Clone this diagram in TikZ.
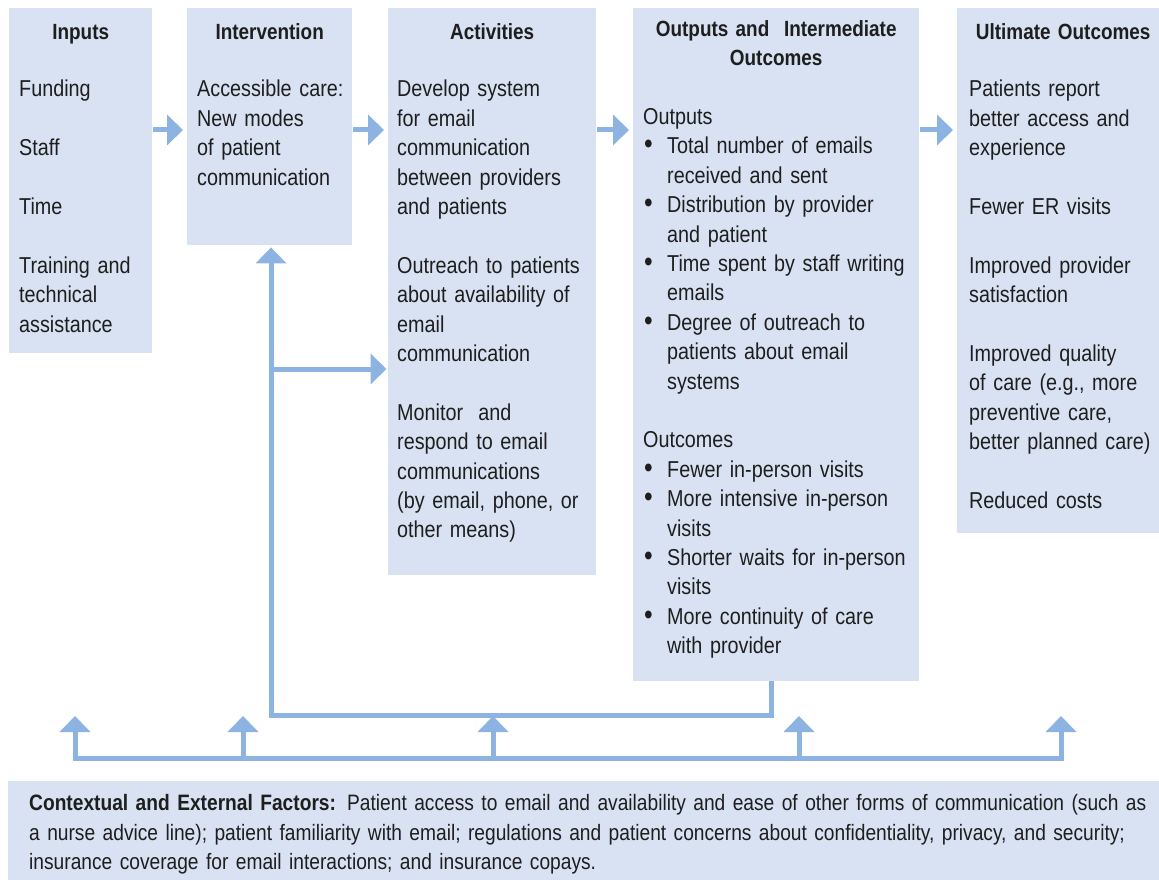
\documentclass[tikz,border=0pt]{standalone}
\usepackage{fontspec}
\setmainfont{Liberation Sans}[FakeStretch=0.86]
\usetikzlibrary{arrows.meta}

\definecolor{boxfill}{RGB}{217,226,243}
\definecolor{flowblue}{RGB}{141,179,226}
\definecolor{ink}{RGB}{30,30,30}

\newcommand{\gapline}{\\[29.4pt]}
\newcommand{\itembul}{\makebox[24pt][l]{\hspace{1pt}\scalebox{1.25}{\textbullet}}}
\newcommand{\contline}{\hspace*{24pt}}

\tikzset{
    panel/.style={fill=boxfill, inner sep=0pt, anchor=north west},
    head/.style={font=\fontsize{22}{29.4}\selectfont\bfseries, text width=#1, align=center, inner sep=0pt, anchor=base},
    head/.default=140pt,
    body/.style={text width=#1, align=left, inner sep=0pt, anchor=base west},
    body/.default=300pt,
    feed/.style={draw=flowblue, line width=5pt},
    flow/.style={feed, -{Triangle[length=16pt,width=30pt]}},
}

\begin{document}
\begin{tikzpicture}[x=1pt, y=-1pt, font=\fontsize{23}{29.4}\selectfont, text=ink]
    \useasboundingbox (0,0) rectangle (1159,880);

    \node[panel, minimum width=143pt, minimum height=345pt] (inputs) at (9,8) {};
    \node[panel, minimum width=165pt, minimum height=237pt] (interv) at (187,8) {};
    \node[panel, minimum width=208pt, minimum height=567pt] (activ) at (388,8) {};
    \node[panel, minimum width=286pt, minimum height=673pt] (outputs) at (633,8) {};
    \node[panel, minimum width=202pt, minimum height=525pt] (ultimate) at (957,8) {};
    \node[panel, minimum width=1151pt, minimum height=100pt] (context) at (8,781) {};

    \node[head] (inputs-t) at ([yshift=-31.5pt]inputs.north) {Inputs};
    \node[head=160pt] (interv-t) at ([yshift=-31.5pt]interv.north) {Intervention};
    \node[head=200pt] (activ-t) at ([yshift=-31.5pt]activ.north) {Activities};
    \node[head=280pt] (outputs-t) at ([yshift=-28.5pt]outputs.north) {Outputs and\ \ Intermediate\\Outcomes};
    \node[head=200pt] (ultimate-t) at ([xshift=5pt,yshift=-31.5pt]ultimate.north) {Ultimate Outcomes};

    \node[body] (inputs-b) at ([xshift=10pt,yshift=-89pt]inputs.north west)
        {Funding\gapline Staff\gapline Time\gapline Training and\\technical\\assistance};
    \node[body] (interv-b) at ([xshift=10pt,yshift=-89pt]interv.north west)
        {Accessible care:\\New modes\\of patient\\communication};
    \node[body] (activ-b) at ([xshift=9pt,yshift=-89pt]activ.north west)
        {Develop system\\for email\\communication\\between providers\\and patients\gapline
         Outreach to patients\\about availability of\\email\\communication\gapline
         Monitor\ \ and\\respond to email\\communications\\(by email, phone, or\\other means)};
    \node[body] (outputs-b) at ([xshift=10pt,yshift=-116.5pt]outputs.north west)
        {Outputs\\
         \itembul Total number of emails\\\contline received and sent\\
         \itembul Distribution by provider\\\contline and patient\\
         \itembul Time spent by staff writing\\\contline emails\\
         \itembul Degree of outreach to\\\contline patients about email\\\contline systems\gapline
         Outcomes\\
         \itembul Fewer in-person visits\\
         \itembul More intensive in-person\\\contline visits\\
         \itembul Shorter waits for in-person\\\contline visits\\
         \itembul More continuity of care\\\contline with provider};
    \node[body] (ultimate-b) at ([xshift=12pt,yshift=-89pt]ultimate.north west)
        {Patients report\\better access and\\experience\gapline
         Fewer ER visits\gapline
         Improved provider\\satisfaction\gapline
         Improved quality\\of care (e.g., more\\preventive care,\\better planned care)\gapline
         Reduced costs};
    \node[body=1140pt, font=\fontsize{22.3}{29.5}\selectfont] (context-b) at ([xshift=21pt,yshift=-29.5pt]context.north west)
        {\textbf{Contextual and External Factors:} Patient access to email and availability and ease of other forms of communication (such as\\
         a nurse advice line); patient familiarity with email; regulations and patient concerns about confidentiality, privacy, and security;\\
         insurance coverage for email interactions; and insurance copays.};

    \coordinate (row) at (0,130);
    \foreach \a/\b in {inputs/interv, interv/activ, activ/outputs, outputs/ultimate}
        \draw[flow, shorten <=1pt, shorten >=4pt] (\a.east |- row) -- (\b.west |- row);

    \coordinate (loop) at (271,715);
    \coordinate (split) at (271,369);
    \draw[flow, shorten >=2pt] ([xshift=-5pt]outputs.south) |- (loop) -- (loop |- interv.south);
    \draw[flow, shorten >=1.5pt] (split) -- (split -| activ.west);

    \foreach \x [count=\i] in {75,243,493,799,1061} {
        \coordinate (base\i) at (\x,758);
        \coordinate (tip\i) at (\x,716);
        \draw[flow] (base\i) -- (tip\i);
    }
    \draw[feed, line cap=rect] (base1) -- (base5);
\end{tikzpicture}
\end{document}
